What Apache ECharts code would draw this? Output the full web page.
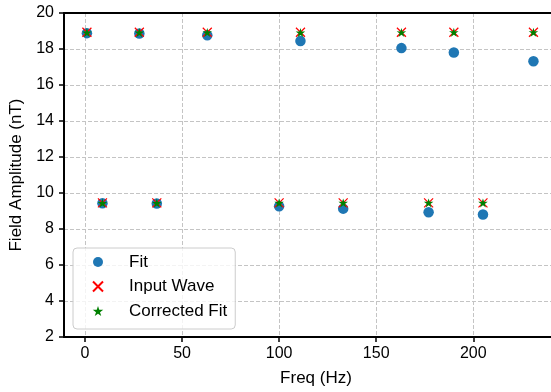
<!DOCTYPE html>
<html>
<head>
<meta charset="utf-8">
<script src="https://cdn.jsdelivr.net/npm/echarts@6/dist/echarts.min.js"></script>
<style>
html,body{margin:0;padding:0;background:#fff;overflow:hidden;}
#chart{width:551px;height:392px;}
</style>
</head>
<body>
<div id="chart"></div>
<script>
// Data
const freq = [1, 9, 28, 37, 63, 100, 111, 133, 163, 177, 190, 205, 231];
const fitAmp = [18.88, 9.43, 18.86, 9.42, 18.76, 9.26, 18.44, 9.13, 18.05, 8.93, 17.81, 8.81, 17.32];
const inputAmp = [18.93, 9.45, 18.93, 9.45, 18.93, 9.45, 18.93, 9.45, 18.93, 9.45, 18.93, 9.45, 18.93];
const correctedAmp = [18.91, 9.44, 18.91, 9.44, 18.92, 9.45, 18.91, 9.45, 18.92, 9.45, 18.93, 9.45, 18.93];
const xTicks = [0, 50, 100, 150, 200];
const seriesNames = ['Fit', 'Input Wave', 'Corrected Fit'];

const FONT = 'Liberation Sans, Arial, Helvetica, sans-serif';
const starPath = 'path://M50,0 L61.17,34.63 L97.55,34.55 L68.07,55.87 L79.39,90.45 L50,69 L20.61,90.45 L31.93,55.87 L2.45,34.55 L38.83,34.63 Z';
const crossPath = 'path://M0,0 L10,10 M10,0 L0,10';

const pairs = (ys) => freq.map((f, i) => [f, ys[i]]);
const gridLine = {show: true, lineStyle: {color: '#c4c4c4', width: 1, type: [4, 2]}};

const chart = echarts.init(document.getElementById('chart'), null, {renderer: 'canvas'});
chart.setOption({
  animation: false,
  backgroundColor: '#fff',
  textStyle: {fontFamily: FONT},
  grid: {left: 64, right: -17, top: 13, bottom: 55, containLabel: false, outerBoundsMode: 'none'},
  xAxis: [{
    type: 'value', min: -10.8, max: 248.8, position: 'bottom',
    name: 'Freq (Hz)', nameLocation: 'middle', nameGap: 33,
    nameTextStyle: {fontSize: 17, color: '#000', fontFamily: FONT},
    axisLine: {show: true, onZero: false, lineStyle: {color: '#000', width: 2}},
    axisTick: {show: true, length: 5, lineStyle: {color: '#000', width: 1.5}, customValues: xTicks},
    axisLabel: {fontSize: 16, color: '#000', margin: 9, fontFamily: FONT, customValues: xTicks},
    splitLine: Object.assign({customValues: xTicks}, gridLine)
  }, {
    type: 'value', min: -10.8, max: 248.8, position: 'top',
    axisLine: {show: true, onZero: false, lineStyle: {color: '#000', width: 2}},
    axisTick: {show: false}, axisLabel: {show: false}, splitLine: {show: false}
  }],
  yAxis: {
    type: 'value', min: 2, max: 20, interval: 2,
    name: 'Field Amplitude (nT)', nameLocation: 'middle', nameGap: 30, nameRotate: 90,
    nameTextStyle: {fontSize: 17, color: '#000', fontFamily: FONT},
    axisLine: {show: true, onZero: false, lineStyle: {color: '#000', width: 2}},
    axisTick: {show: true, length: 5, lineStyle: {color: '#000', width: 1.5}},
    axisLabel: {fontSize: 16, color: '#000', margin: 10, fontFamily: FONT},
    splitLine: gridLine
  },
  legend: {
    orient: 'vertical', left: 73, top: 248,
    padding: [5, 8, 9, 19], itemGap: 6.5, itemWidth: 20, itemHeight: 10,
    borderColor: '#cccccc', borderWidth: 1, borderRadius: 4,
    backgroundColor: 'rgba(255,255,255,0.8)',
    textStyle: {fontSize: 17, color: '#000', fontFamily: FONT, lineHeight: 18, padding: [0, 0, 0, 16]},
    data: seriesNames
  },
  series: [{
    name: seriesNames[0], type: 'scatter', data: pairs(fitAmp),
    symbol: 'circle', symbolSize: 10.5,
    itemStyle: {color: '#1f77b4', opacity: 1}
  }, {
    name: seriesNames[1], type: 'scatter', data: pairs(inputAmp),
    symbol: crossPath, symbolSize: 9, symbolKeepAspect: true,
    itemStyle: {color: 'rgba(0,0,0,0)', borderColor: '#ff0000', borderWidth: 1.2, opacity: 1}
  }, {
    name: seriesNames[2], type: 'scatter', data: pairs(correctedAmp),
    symbol: starPath, symbolSize: 9.5, symbolKeepAspect: true,
    itemStyle: {color: '#008000', opacity: 1}
  }]
});
</script>
</body>
</html>
